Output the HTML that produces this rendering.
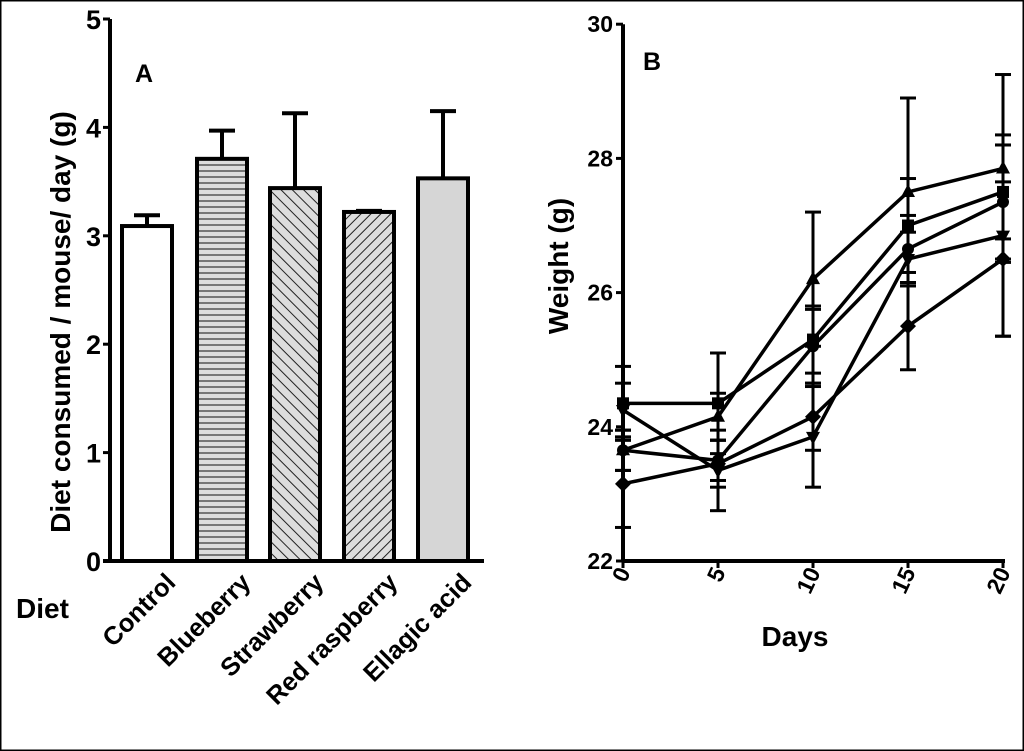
<!DOCTYPE html>
<html><head><meta charset="utf-8"><style>
html,body{margin:0;padding:0;background:#fff}
svg{display:block;font-family:"Liberation Sans",Arial,sans-serif;font-weight:bold}
</style></head><body>
<svg id="svg" width="1024" height="751" viewBox="0 0 1024 751">
<defs>
<pattern id="hHoriz" width="6" height="6" patternUnits="userSpaceOnUse"><rect width="6" height="6" fill="#ddd"/><line x1="0" y1="3" x2="6" y2="3" stroke="#333" stroke-width="1.2"/></pattern>
<pattern id="hBack" width="8" height="8" patternUnits="userSpaceOnUse" patternTransform="rotate(-45)"><rect width="8" height="8" fill="#ddd"/><line x1="0" y1="0" x2="0" y2="8" stroke="#222" stroke-width="2"/></pattern>
<pattern id="hFwd" width="7" height="7" patternUnits="userSpaceOnUse" patternTransform="rotate(45)"><rect width="7" height="7" fill="#ddd"/><line x1="0" y1="0" x2="0" y2="7" stroke="#222" stroke-width="2"/></pattern>
</defs>
<rect x="0.5" y="0.5" width="1023" height="750" fill="#fff" stroke="#000" stroke-width="2"/>
<g id="pa"></g>
<g id="pb"></g>
</svg>
<script>
// Panel A data
const categories = ["Control","Blueberry","Strawberry","Red raspberry","Ellagic acid"];
const dietMeans = [3.09, 3.71, 3.44, 3.22, 3.53];
const dietErrTop = [3.19, 3.97, 4.13, 3.23, 4.15];
const aTicks = [0,1,2,3,4,5];
// Panel B data
const days = [0,5,10,15,20];
const bTicks = [22,24,26,28,30];
const sSquare = [24.35, 24.35, 25.3, 27.0, 27.5];
const sTriangle = [23.65, 24.15, 26.2, 27.5, 27.85];
const sCircle = [23.65, 23.5, 25.2, 26.65, 27.35];
const sInvTri = [24.25, 23.35, 23.85, 26.5, 26.85];
const sDiamond = [23.15, 23.45, 24.15, 25.5, 26.5];
const eSquare = [0.55, 0.75, 0.5, 0.7, 0.7];
const eTriangle = [0.3, 0.35, 1.0, 1.4, 1.4];
const eCircle = [0.3, 0.3, 0.55, 0.5, 0.85];
const eInvTri = [0.4, 0.6, 0.75, 0.4, 1.5];
const eDiamond = [0.65, 0.35, 0.5, 0.65, 1.15];

const NS="http://www.w3.org/2000/svg";
function mk(p,t,a,txt){const e=document.createElementNS(NS,t);for(const k in a)e.setAttribute(k,a[k]);if(txt!==undefined)e.textContent=txt;p.appendChild(e);return e;}

// ---- Panel A
const pa=document.getElementById('pa');
const ay=v=>561-v*108.4;
const barX=[122,197,270,344,418], barW=50;
const fills=["#fff","url(#hHoriz)","url(#hBack)","url(#hFwd)","#d6d6d6"];
categories.forEach((c,i)=>{
  const x=barX[i], cx=x+barW/2;
  const eb=mk(pa,'line',{x1:cx,y1:ay(dietMeans[i]),x2:cx,y2:ay(dietErrTop[i]),stroke:'#000','stroke-width':4});
  
  
  const cap=mk(pa,'line',{x1:cx-13,y1:ay(dietErrTop[i]),x2:cx+13,y2:ay(dietErrTop[i]),stroke:'#000','stroke-width':4});
  
  
  const r=mk(pa,'rect',{x:x,y:ay(dietMeans[i]),width:barW,height:ay(0)-ay(dietMeans[i]),fill:fills[i],stroke:'#000','stroke-width':4});
  
  
  const t=mk(pa,'text',{x:cx+30,y:584,'text-anchor':'end','font-size':25.5,transform:`rotate(-45 ${cx+30} 584)`},c);
  
  
});
mk(pa,'line',{x1:110,y1:ay(0),x2:110,y2:ay(5),stroke:'#000','stroke-width':4});
mk(pa,'line',{x1:103,y1:ay(0),x2:484,y2:ay(0),stroke:'#000','stroke-width':4});
aTicks.forEach(v=>{
  mk(pa,'line',{x1:103,y1:ay(v),x2:110,y2:ay(v),stroke:'#000','stroke-width':3});
  const t=mk(pa,'text',{x:101,y:ay(v)+10,'text-anchor':'end','font-size':27},String(v));
  
  
});
let t=mk(pa,'text',{x:0,y:0,'text-anchor':'middle','font-size':28,transform:'translate(70,322) rotate(-90)'},'Diet consumed / mouse/ day (g)');

t=mk(pa,'text',{x:16,y:618,'font-size':28},'Diet');

t=mk(pa,'text',{x:135,y:82,'font-size':25},'A');


// ---- Panel B
const pb=document.getElementById('pb');
const bx=d=>623+d*19, by=v=>561-(v-22)*67.1;
mk(pb,'line',{x1:623,y1:by(22),x2:623,y2:by(30),stroke:'#000','stroke-width':4});
mk(pb,'line',{x1:623,y1:by(22),x2:1005,y2:by(22),stroke:'#000','stroke-width':4});
bTicks.forEach(v=>{
  mk(pb,'line',{x1:616,y1:by(v),x2:623,y2:by(v),stroke:'#000','stroke-width':3});
  const t=mk(pb,'text',{x:613,y:by(v)+8,'text-anchor':'end','font-size':23},String(v));
  
  
});
days.forEach(d=>{
  mk(pb,'line',{x1:bx(d),y1:by(22),x2:bx(d),y2:by(22)+7,stroke:'#000','stroke-width':3});
  const t=mk(pb,'text',{x:bx(d)+8,y:572,'text-anchor':'end','font-size':23,transform:`rotate(-65 ${bx(d)+8} 572)`},String(d));
  
  
});
const series=[["square",sSquare,eSquare],["triangle",sTriangle,eTriangle],["circle",sCircle,eCircle],["inverted-triangle",sInvTri,eInvTri],["diamond",sDiamond,eDiamond]];
series.forEach(([nm,vals,errs])=>{
  const g=mk(pb,'g',{});
  
  
  vals.forEach((v,i)=>{
    const x=bx(days[i]);
    mk(g,'line',{x1:x,y1:by(v-errs[i]),x2:x,y2:by(v+errs[i]),stroke:'#000','stroke-width':3});
    [v-errs[i],v+errs[i]].forEach(e=>mk(g,'line',{x1:x-8,y1:by(e),x2:x+8,y2:by(e),stroke:'#000','stroke-width':3}));
  });
  mk(g,'polyline',{points:vals.map((v,i)=>bx(days[i])+','+by(v)).join(' '),fill:'none',stroke:'#000','stroke-width':3.5});
  vals.forEach((v,i)=>{
    const x=bx(days[i]),y=by(v);let m;
    if(nm==='square')m=mk(g,'rect',{x:x-6,y:y-6,width:12,height:12});
    else if(nm==='circle')m=mk(g,'circle',{cx:x,cy:y,r:6});
    else if(nm==='triangle')m=mk(g,'polygon',{points:`${x},${y-8} ${x-7},${y+5} ${x+7},${y+5}`});
    else if(nm==='inverted-triangle')m=mk(g,'polygon',{points:`${x},${y+8} ${x-7},${y-5} ${x+7},${y-5}`});
    else m=mk(g,'polygon',{points:`${x},${y-8} ${x+8},${y} ${x},${y+8} ${x-8},${y}`});
    m.setAttribute('fill','#000');
    
    
  });
});
t=mk(pb,'text',{x:0,y:0,'text-anchor':'middle','font-size':28,transform:'translate(568,266) rotate(-90)'},'Weight (g)');

t=mk(pb,'text',{x:795,y:646,'text-anchor':'middle','font-size':28},'Days');

t=mk(pb,'text',{x:643,y:70,'font-size':25},'B');

</script>
</body></html>
